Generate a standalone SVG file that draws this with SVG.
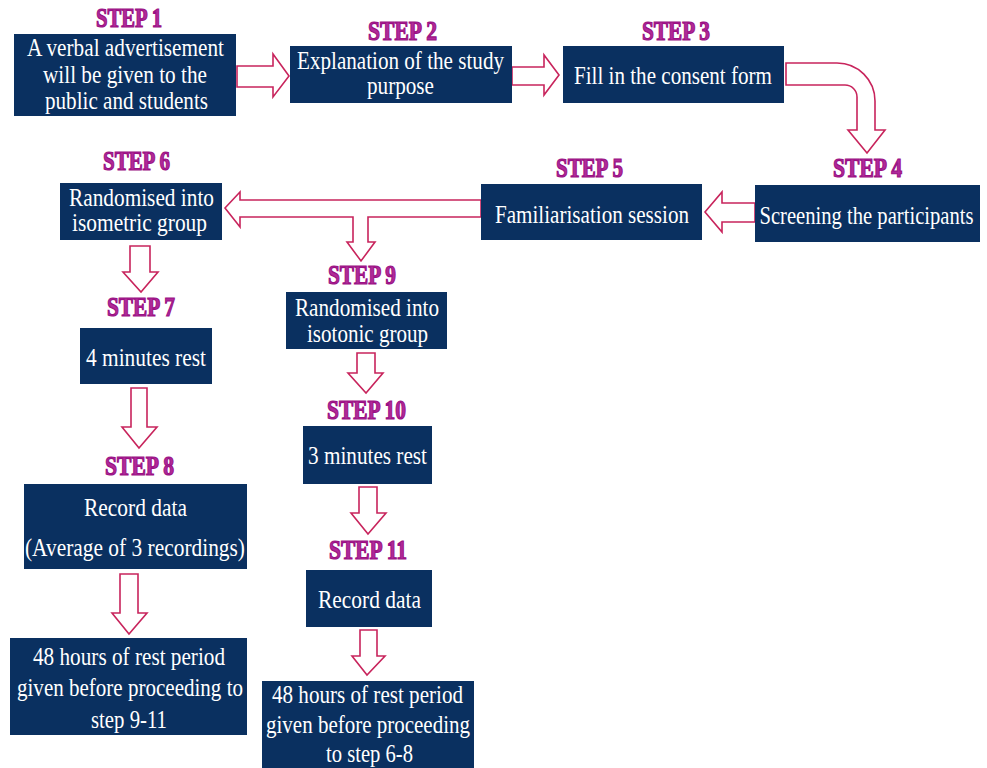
<svg xmlns="http://www.w3.org/2000/svg" width="987" height="768" viewBox="0 0 987 768">
<style>
.box{fill:#0a3060}
.t{font-family:"Liberation Serif","Times New Roman",serif;font-size:25px;fill:#ffffff;text-anchor:middle}
.s{font-family:"Liberation Serif","Times New Roman",serif;font-size:27px;font-weight:bold;fill:#b02a98;stroke:#9a1084;stroke-width:1.2;text-anchor:middle}
.a{fill:#ffffff;stroke:#c8245c;stroke-width:1.6;stroke-linejoin:miter}
</style>
<rect width="987" height="768" fill="#ffffff"/>
<g id="connectors">
<path class="a" d="M237,66 H273 V54 L289,76 L273,97 V87 H237 Z"/>
<path class="a" d="M512,67 H544 V55 L559,75 L544,95 V85 H512 Z"/>
<path class="a" d="M786,63 H837 A38,38 0 0 1 875,101 V130 H885 L867,153 L848,130 H857 V97 A12,12 0 0 0 845,85 H786 Z"/>
<path class="a" d="M755,203 H722 V192 L705,212 L722,232 V222 H755 Z"/>
<path class="a" d="M481,200 H240 V192 L225,208 L240,227 V217 H353 V242 H347 L361,261 L375,242 H368 V217 H481 Z"/>
<path class="a" d="M130,246 V272 H123 L141,292 L158,272 H150 V246 Z"/>
<path class="a" d="M131,388 V427 H122 L139,448 L157,427 H147 V388 Z"/>
<path class="a" d="M120,574 V613 H112 L129,634 L147,613 H138 V574 Z"/>
<path class="a" d="M357,353 V373 H348 L366,393 L383,373 H375 V353 Z"/>
<path class="a" d="M359,487 V513 H351 L368,534 L386,513 H377 V487 Z"/>
<path class="a" d="M360,630 V656 H352 L367,675 L385,656 H377 V630 Z"/>
</g>
<g id="step1">
<text class="s" x="129" y="27" textLength="66" lengthAdjust="spacingAndGlyphs">STEP 1</text>
<rect class="box" x="14" y="34" width="222" height="82"/>
<text class="t" x="125.5" y="56" textLength="197" lengthAdjust="spacingAndGlyphs">A verbal advertisement</text>
<text class="t" x="125" y="83" textLength="164" lengthAdjust="spacingAndGlyphs">will be given to the</text>
<text class="t" x="126.5" y="109" textLength="163" lengthAdjust="spacingAndGlyphs">public and students</text>
</g>
<g id="step2">
<text class="s" x="402.5" y="40" textLength="69" lengthAdjust="spacingAndGlyphs">STEP 2</text>
<rect class="box" x="290" y="46" width="222" height="57"/>
<text class="t" x="400.5" y="69" textLength="207" lengthAdjust="spacingAndGlyphs">Explanation of the study</text>
<text class="t" x="400.5" y="94" textLength="67" lengthAdjust="spacingAndGlyphs">purpose</text>
</g>
<g id="step3">
<text class="s" x="676" y="40" textLength="68" lengthAdjust="spacingAndGlyphs">STEP 3</text>
<rect class="box" x="563" y="46" width="221" height="57"/>
<text class="t" x="673" y="84" textLength="198" lengthAdjust="spacingAndGlyphs">Fill in the consent form</text>
</g>
<g id="step4">
<text class="s" x="867.5" y="177" textLength="69" lengthAdjust="spacingAndGlyphs">STEP 4</text>
<rect class="box" x="755" y="185" width="225" height="57"/>
<text class="t" x="866.5" y="224" textLength="214" lengthAdjust="spacingAndGlyphs">Screening the participants</text>
</g>
<g id="step5">
<text class="s" x="589.5" y="177" textLength="67" lengthAdjust="spacingAndGlyphs">STEP 5</text>
<rect class="box" x="481" y="184" width="221" height="56"/>
<text class="t" x="592" y="223" textLength="194" lengthAdjust="spacingAndGlyphs">Familiarisation session</text>
</g>
<g id="step6">
<text class="s" x="136.5" y="170" textLength="67" lengthAdjust="spacingAndGlyphs">STEP 6</text>
<rect class="box" x="60" y="183" width="162" height="57"/>
<text class="t" x="141.5" y="206" textLength="145" lengthAdjust="spacingAndGlyphs">Randomised into</text>
<text class="t" x="139.5" y="231" textLength="135" lengthAdjust="spacingAndGlyphs">isometric group</text>
</g>
<g id="step7">
<text class="s" x="141" y="316" textLength="68" lengthAdjust="spacingAndGlyphs">STEP 7</text>
<rect class="box" x="80" y="328" width="132" height="56"/>
<text class="t" x="146" y="366" textLength="120" lengthAdjust="spacingAndGlyphs">4 minutes rest</text>
</g>
<g id="step8">
<text class="s" x="139.5" y="475" textLength="69" lengthAdjust="spacingAndGlyphs">STEP 8</text>
<rect class="box" x="24" y="484" width="223" height="85"/>
<text class="t" x="135.5" y="516" textLength="103" lengthAdjust="spacingAndGlyphs">Record data</text>
<text class="t" x="135" y="556" textLength="220" lengthAdjust="spacingAndGlyphs">(Average of 3 recordings)</text>
</g>
<g id="step8-rest">
<rect class="box" x="10" y="638" width="237" height="97"/>
<text class="t" x="129" y="665" textLength="192" lengthAdjust="spacingAndGlyphs">48 hours of rest period</text>
<text class="t" x="130" y="696" textLength="226" lengthAdjust="spacingAndGlyphs">given before proceeding to</text>
<text class="t" x="129" y="728" textLength="76" lengthAdjust="spacingAndGlyphs">step 9-11</text>
</g>
<g id="step9">
<text class="s" x="362" y="284" textLength="68" lengthAdjust="spacingAndGlyphs">STEP 9</text>
<rect class="box" x="286" y="292" width="161" height="57"/>
<text class="t" x="367" y="316" textLength="144" lengthAdjust="spacingAndGlyphs">Randomised into</text>
<text class="t" x="367.5" y="342" textLength="121" lengthAdjust="spacingAndGlyphs">isotonic group</text>
</g>
<g id="step10">
<text class="s" x="366.5" y="419" textLength="79" lengthAdjust="spacingAndGlyphs">STEP 10</text>
<rect class="box" x="303" y="426" width="129" height="58"/>
<text class="t" x="367.5" y="464" textLength="119" lengthAdjust="spacingAndGlyphs">3 minutes rest</text>
</g>
<g id="step11">
<text class="s" x="368" y="559" textLength="78" lengthAdjust="spacingAndGlyphs">STEP 11</text>
<rect class="box" x="306" y="570" width="126" height="57"/>
<text class="t" x="369.5" y="608" textLength="103" lengthAdjust="spacingAndGlyphs">Record data</text>
</g>
<g id="step11-rest">
<rect class="box" x="262" y="681" width="212" height="87"/>
<text class="t" x="367.5" y="703" textLength="191" lengthAdjust="spacingAndGlyphs">48 hours of rest period</text>
<text class="t" x="368" y="733" textLength="204" lengthAdjust="spacingAndGlyphs">given before proceeding</text>
<text class="t" x="369.5" y="762" textLength="87" lengthAdjust="spacingAndGlyphs">to step 6-8</text>
</g>
</svg>
